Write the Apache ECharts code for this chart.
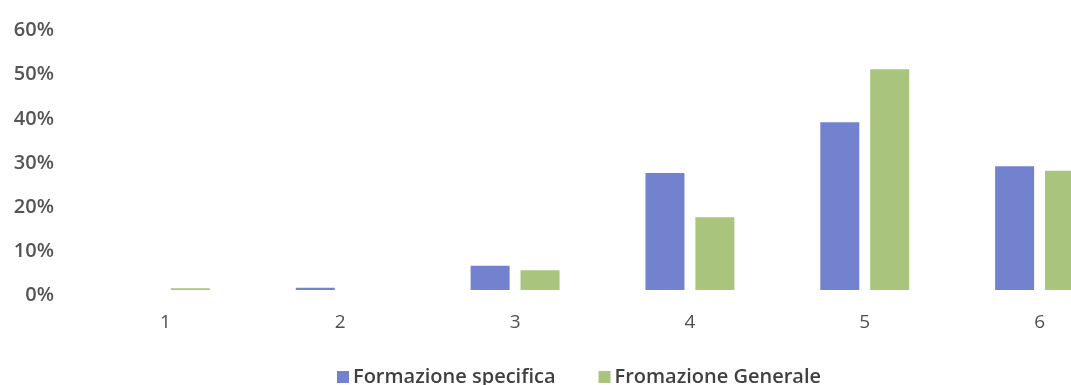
<!DOCTYPE html>
<html>
<head>
<meta charset="utf-8">
<script src="https://cdn.jsdelivr.net/npm/echarts@6/dist/echarts.min.js"></script>
<style>
  html, body { margin: 0; padding: 0; background: #ffffff; }
  #chart { width: 1071px; height: 385px; }
</style>
</head>
<body>
<div id="chart"></div>
<script>
// Categories (scale points 1–6) and share of answers per training type, in %
const categories = ['1', '2', '3', '4', '5', '6'];
const formazioneSpecifica = [0, 0.5, 5.5, 26.5, 38, 28];
const formazioneGenerale = [0.4, 0, 4.5, 16.5, 50, 27];
const seriesNames = ['Formazione specifica', 'Fromazione Generale'];
const yTicks = { min: 0, max: 60, interval: 10 };

const FONT = '"Open Sans", "Liberation Sans", sans-serif';
const BLUE = '#7282cf';
const GREEN = '#a9c47c';

const chart = echarts.init(document.getElementById('chart'), null, { renderer: 'canvas' });

// The plot runs past the right edge, so the last group is partly clipped.
chart.setOption({
  animation: false,
  backgroundColor: '#ffffff',
  grid: {
    left: 78, top: 25, right: -56, bottom: 95,
    containLabel: false,
    outerBoundsMode: 'none'
  },
  legend: {
    left: 332,
    top: 362,
    itemWidth: 12,
    itemHeight: 12,
    itemGap: 43,
    icon: 'rect',
    textStyle: {
      fontFamily: FONT, fontSize: 20, fontWeight: 600, color: '#404040',
      lineHeight: 20, padding: [0, 0, 0, -1]
    },
    data: seriesNames
  },
  xAxis: {
    type: 'category',
    data: categories,
    axisLine: { show: false },
    axisTick: { show: false },
    axisLabel: { margin: 23, fontFamily: FONT, fontSize: 19, color: '#505050' }
  },
  yAxis: {
    type: 'value',
    min: yTicks.min,
    max: yTicks.max,
    interval: yTicks.interval,
    splitLine: { show: false },
    axisLine: { show: false },
    axisTick: { show: false },
    axisLabel: {
      margin: 24,
      formatter: v => '{t|' + v + '%}',
      rich: {
        t: {
          fontFamily: FONT,
          fontSize: 20,
          fontWeight: 600,
          color: '#555555',
          padding: [11, 0, 0, 0]
        }
      }
    }
  },
  series: [
    {
      name: seriesNames[0],
      type: 'bar',
      data: formazioneSpecifica,
      barWidth: 39,
      barGap: '28%',
      itemStyle: { color: BLUE }
    },
    {
      name: seriesNames[1],
      type: 'bar',
      data: formazioneGenerale,
      barWidth: 39,
      barGap: '28%',
      itemStyle: { color: GREEN }
    }
  ]
});
</script>
</body>
</html>
